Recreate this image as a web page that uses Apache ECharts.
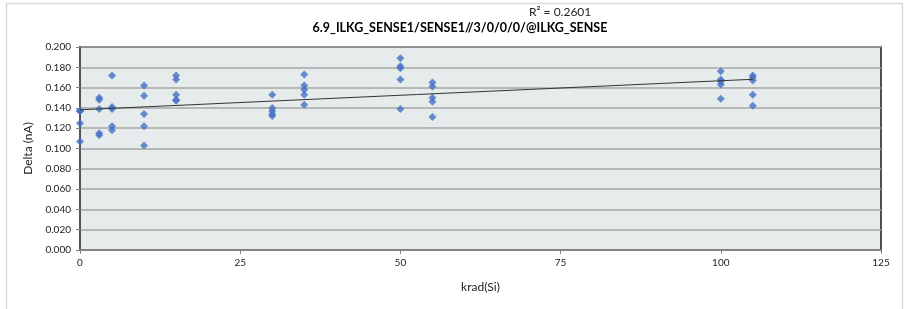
<!DOCTYPE html>
<html>
<head>
<meta charset="utf-8">
<script src="https://cdn.jsdelivr.net/npm/echarts@6/dist/echarts.min.js"></script>
<style>
  html, body { margin: 0; padding: 0; background: #fff; }
  #chart { width: 905px; height: 309px; }
</style>
</head>
<body>
<div id="chart"></div>
<script>
const doseGroups = [0, 3, 5, 10, 15, 30, 35, 50, 55, 100, 105];
const deltaGroups = [
  [0.137, 0.137, 0.125, 0.107, 0.137],
  [0.150, 0.148, 0.139, 0.115, 0.113],
  [0.172, 0.141, 0.139, 0.122, 0.118],
  [0.162, 0.152, 0.134, 0.122, 0.103],
  [0.172, 0.168, 0.153, 0.148, 0.147],
  [0.153, 0.140, 0.137, 0.134, 0.132],
  [0.173, 0.162, 0.158, 0.153, 0.143],
  [0.189, 0.181, 0.179, 0.168, 0.139],
  [0.165, 0.161, 0.150, 0.146, 0.131],
  [0.176, 0.168, 0.166, 0.163, 0.149],
  [0.172, 0.170, 0.167, 0.153, 0.142]
];
const titleText = "6.9_ILKG_SENSE1/SENSE1//3/0/0/0/@ILKG_SENSE";
const r2Text = "R² = 0.2601";

let points = [];
doseGroups.forEach((d, i) => {
  deltaGroups[i].forEach((v) => points.push([d, v]));
});

// linear trendline (least squares)
let n = points.length, sx = 0, sy = 0, sxx = 0, sxy = 0;
points.forEach((p) => {
  sx += p[0]; sy += p[1]; sxx += p[0] * p[0]; sxy += p[0] * p[1];
});
const slope = (n * sxy - sx * sy) / (n * sxx - sx * sx);
const icpt = (sy - slope * sx) / n;
const xMin = Math.min(...doseGroups), xMax = Math.max(...doseGroups);
const trend = [[xMin, icpt + slope * xMin], [xMax, icpt + slope * xMax]];

const font = "Lato, 'Open Sans', sans-serif";
const chart = echarts.init(document.getElementById("chart"));
chart.setOption({
  animation: false,
  textStyle: { fontFamily: font },
  graphic: [
    {
      type: "rect",
      shape: { x: 6.5, y: 3.5, width: 896, height: 320 },
      style: { fill: "none", stroke: "#d9d9d9", lineWidth: 1.5 },
      silent: true
    },
    {
      type: "text",
      left: 529,
      top: 6,
      z: 10,
      style: { text: r2Text, fill: "#222", font: "12px " + font }
    }
  ],
  title: {
    text: titleText,
    left: 455,
    top: 16,
    textAlign: "center",
    textStyle: { fontSize: 12.5, fontWeight: "bold", color: "#000", fontFamily: font }
  },
  grid: {
    left: 80,
    right: 24,
    top: 47,
    bottom: 59,
    show: true,
    backgroundColor: "#e6ebeb",
    borderColor: "#1a1a1a",
    borderWidth: 1.5
  },
  xAxis: {
    type: "value",
    min: 0,
    max: 125,
    interval: 25,
    name: "krad(Si)",
    nameLocation: "middle",
    nameGap: 31,
    nameTextStyle: { fontSize: 12, color: "#222" },
    axisLine: { show: true, lineStyle: { color: "#808080", width: 1.5 } },
    axisTick: { show: true, length: 4, lineStyle: { color: "#808080" } },
    axisLabel: { fontSize: 10, color: "#222", margin: 8 },
    splitLine: { show: false }
  },
  yAxis: {
    type: "value",
    min: 0,
    max: 0.2,
    interval: 0.02,
    name: "Delta (nA)",
    nameLocation: "middle",
    nameGap: 40,
    nameTextStyle: { fontSize: 12, color: "#222" },
    axisLine: { show: true, lineStyle: { color: "#555", width: 1.5 } },
    axisTick: { show: true, length: 4, lineStyle: { color: "#808080" } },
    axisLabel: { fontSize: 10, color: "#222", margin: 9, formatter: (v) => v.toFixed(3) },
    splitLine: { show: true, lineStyle: { color: "#a6a6a6", width: 1.5 } }
  },
  series: [
    {
      type: "scatter",
      symbol: "diamond",
      symbolSize: 8,
      itemStyle: { color: "#4472c4" },
      data: points,
      z: 3
    },
    {
      type: "line",
      data: trend,
      symbol: "none",
      lineStyle: { color: "#333", width: 1 },
      z: 4
    }
  ]
});
</script>
</body>
</html>
